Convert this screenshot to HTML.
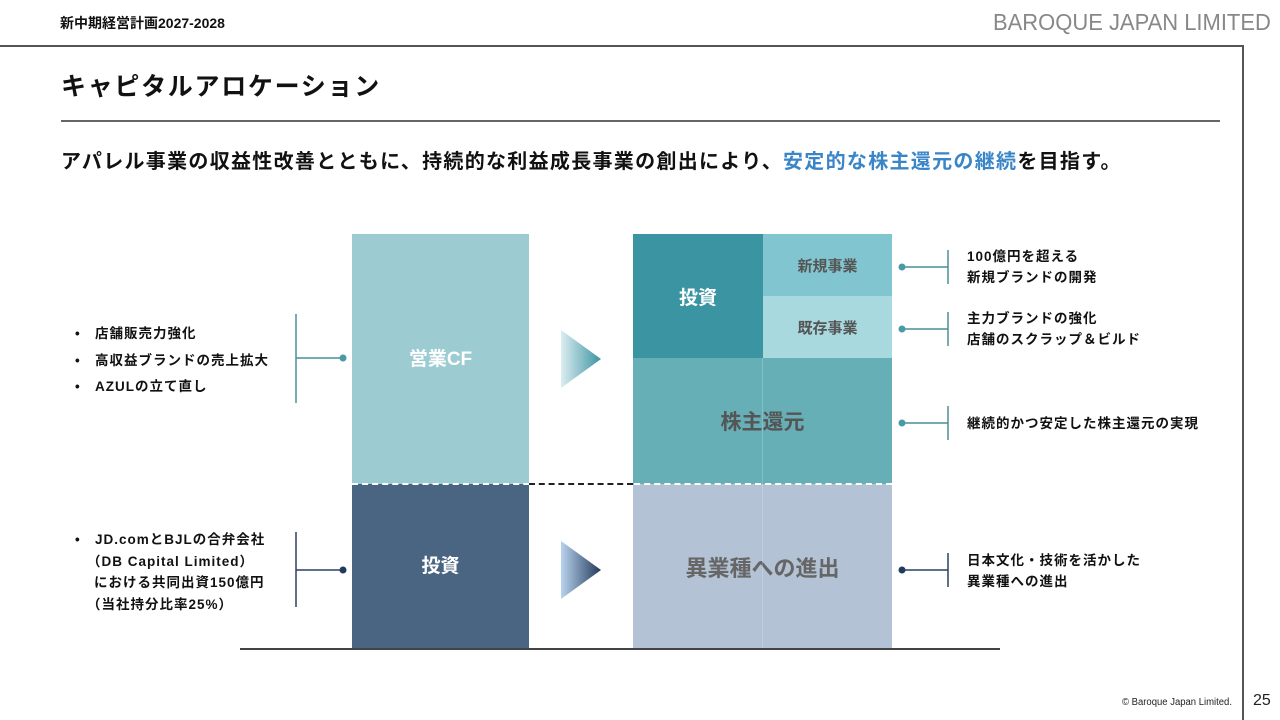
<!DOCTYPE html>
<html><head><meta charset="utf-8"><style>
*{margin:0;padding:0;box-sizing:border-box}
body{width:1280px;height:720px;background:#fff;position:relative;overflow:hidden;font-family:"Liberation Sans","Noto Sans CJK JP",sans-serif;color:#111}
.a{position:absolute}
.b{font-weight:bold}
.box{position:absolute;display:flex;align-items:center;justify-content:center;font-weight:bold}
.t{position:absolute;font-size:13.5px;font-weight:bold;line-height:21px;white-space:nowrap;letter-spacing:1px}
</style></head><body>
<div class="a b" style="left:60px;top:13px;font-size:14px">新中期経営計画2027-2028</div>
<div class="a" style="left:993px;top:9px;font-size:23px;color:#888;white-space:nowrap;transform:scaleX(0.955);transform-origin:left top">BAROQUE JAPAN LIMITED</div>
<div class="a" style="left:0;top:45px;width:1244px;height:2px;background:#555"></div>
<div class="a" style="left:1242px;top:46px;width:1.5px;height:674px;background:#555"></div>
<div class="a b" style="left:61px;top:67px;font-size:25px;letter-spacing:1.7px;white-space:nowrap">キャピタルアロケーション</div>
<div class="a" style="left:61px;top:120px;width:1159px;height:1.5px;background:#666"></div>
<div class="a b" style="left:61px;top:145px;font-size:20px;letter-spacing:1.3px;white-space:nowrap">アパレル事業の収益性改善とともに、持続的な利益成長事業の創出により、<span style="color:#3a85c8">安定的な株主還元の継続</span>を目指す。</div>

<div class="box" style="left:352px;top:234px;width:177px;height:250px;background:#9ccbd1;color:#fff;font-size:19px;align-items:flex-start;padding-top:110px">営業CF</div>
<div class="box" style="left:352px;top:484px;width:177px;height:165px;background:#4a6582;color:#fff;font-size:19px;padding-bottom:4px">投資</div>
<div class="box" style="left:633px;top:234px;width:130px;height:124px;background:#3a94a2;color:#fff;font-size:19px">投資</div>
<div class="box" style="left:763px;top:234px;width:129px;height:62px;background:#80c5cf;color:#555;font-size:15px">新規事業</div>
<div class="box" style="left:763px;top:296px;width:129px;height:62px;background:#a8d9df;color:#555;font-size:15px">既存事業</div>
<div class="box" style="left:633px;top:358px;width:259px;height:126px;background:#67afb6;color:#555;font-size:21px">株主還元</div>
<div class="box" style="left:633px;top:484px;width:259px;height:165px;background:#b3c2d4;color:#666;font-size:22px">異業種への進出</div>
<div class="a" style="left:762px;top:358px;width:1px;height:291px;background:rgba(255,255,255,0.2)"></div>
<div class="a" style="left:352px;top:483px;width:540px;border-top:2px dashed #fff"></div>
<div class="a" style="left:529px;top:483px;width:104px;border-top:2px dashed #222"></div>
<div class="a" style="left:240px;top:648px;width:760px;height:2px;background:#444"></div>

<svg class="a" style="left:0;top:0" width="1280" height="720">
<defs>
<linearGradient id="g1"><stop offset="0" stop-color="#dcedf1"/><stop offset="1" stop-color="#3a94a2"/></linearGradient>
<linearGradient id="g2"><stop offset="0" stop-color="#b9d3ee"/><stop offset="1" stop-color="#233a5c"/></linearGradient>
</defs>
<polygon points="561,330 601,359 561,388" fill="url(#g1)"/>
<polygon points="561,541 601,570 561,599" fill="url(#g2)"/>
<g stroke="#4a8f9a" stroke-width="1.5" fill="#4a9aa5">
<line x1="296" y1="314" x2="296" y2="403"/><line x1="296" y1="358" x2="343" y2="358"/>
<line x1="948" y1="250" x2="948" y2="284"/><line x1="902" y1="267" x2="948" y2="267"/>
<line x1="948" y1="312" x2="948" y2="346"/><line x1="902" y1="329" x2="948" y2="329"/>
<line x1="948" y1="406" x2="948" y2="440"/><line x1="902" y1="423" x2="948" y2="423"/>
<circle cx="343" cy="358" r="3.5" stroke="none"/><circle cx="902" cy="267" r="3.5" stroke="none"/><circle cx="902" cy="329" r="3.5" stroke="none"/><circle cx="902" cy="423" r="3.5" stroke="none"/>
</g>
<g stroke="#2a4060" stroke-width="1.5" fill="#233a5c">
<line x1="296" y1="532" x2="296" y2="607"/><line x1="296" y1="570" x2="343" y2="570"/>
<line x1="948" y1="553" x2="948" y2="587"/><line x1="902" y1="570" x2="948" y2="570"/>
<circle cx="343" cy="570" r="3.5" stroke="none"/><circle cx="902" cy="570" r="3.5" stroke="none"/>
</g>
</svg>

<div class="t" style="left:75px;top:321px;line-height:26.5px">•&nbsp;&nbsp;&nbsp;店舗販売力強化<br>•&nbsp;&nbsp;&nbsp;高収益ブランドの売上拡大<br>•&nbsp;&nbsp;&nbsp;AZULの立て直し</div>
<div class="t" style="left:75px;top:529px;line-height:21.5px">•&nbsp;&nbsp;&nbsp;JD.comとBJLの合弁会社<br><span style="padding-left:12px">（DB Capital Limited）</span><br><span style="padding-left:19px">における共同出資150億円</span><br><span style="padding-left:12px">（当社持分比率25%）</span></div>
<div class="t" style="left:967px;top:246px">100億円を超える<br>新規ブランドの開発</div>
<div class="t" style="left:967px;top:308px">主力ブランドの強化<br>店舗のスクラップ＆ビルド</div>
<div class="t" style="left:967px;top:413px">継続的かつ安定した株主還元の実現</div>
<div class="t" style="left:967px;top:550px">日本文化・技術を活かした<br>異業種への進出</div>

<div class="a" style="left:1122px;top:697px;font-size:10px;color:#222;white-space:nowrap;transform:scaleX(0.95);transform-origin:left top">© Baroque Japan Limited.</div>
<div class="a" style="left:1253px;top:692px;font-size:16px;color:#222">25</div>
</body></html>
